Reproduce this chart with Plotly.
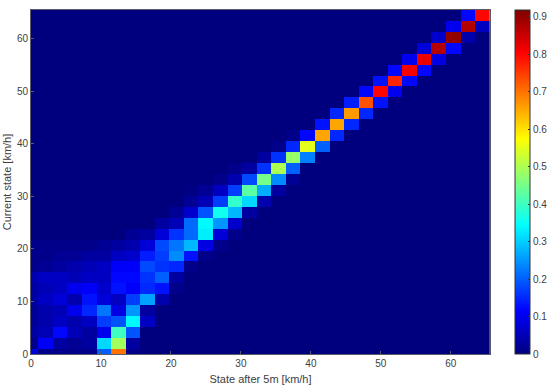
import plotly.graph_objects as go

# speed bins [km/h], first bin is centred on 0 so it gets clipped by the axis
speed_bins = [0, 2.08, 4.16, 6.24, 8.32, 10.4, 12.48, 14.56, 16.64, 18.72, 20.8, 22.88, 24.96, 27.04, 29.12, 31.2,
              33.28, 35.36, 37.44, 39.52, 41.6, 43.68, 45.76, 47.84, 49.92, 52.0, 54.08, 56.16, 58.24, 60.32, 62.4, 64.48]

x_ticks = [0, 10, 20, 30, 40, 50, 60]
y_ticks = [0, 10, 20, 30, 40, 50, 60]
cbar_ticks = [0, 0.1, 0.2, 0.3, 0.4, 0.5, 0.6, 0.7, 0.8, 0.9]

# per row of current state: first non empty column, then the values from there
first_col = [0, 0, 0, 0, 0, 0, 0, 0, 0, 0, 0, 7, 9, 10, 11, 11,
             13, 14, 16, 17, 18, 20, 21, 22, 23, 24, 25, 26, 27, 28, 29, 30]
row_values = [
    [.08, .01, .01, .01, .01, .2, .7, .01],
    [.01, .11, .03, .02, .03, .31, .49, .03],
    [.03, .05, .12, .05, .03, .1, .4, .19],
    [.02, .04, .06, .04, .06, .17, .19, .34, .06],
    [.02, .04, .05, .1, .15, .22, .09, .25, .03],
    [.03, .06, .08, .04, .13, .08, .06, .17, .26, .04],
    [.03, .05, .06, .1, .11, .07, .13, .11, .15, .13, .01],
    [.04, .06, .06, .05, .06, .06, .12, .12, .16, .2, .03],
    [.01, .02, .03, .04, .05, .06, .11, .11, .18, .16, .15, .01],
    [.01, .01, .02, .02, .03, .03, .06, .07, .14, .17, .24, .13, .01],
    [.01, .01, .01, .01, .01, .02, .03, .04, .08, .18, .22, .28, .09, .01],
    [.02, .03, .08, .16, .21, .33, .08, .01],
    [.03, .05, .21, .34, .25, .07],
    [.02, .07, .19, .36, .28, .03],
    [.02, .05, .17, .39, .31, .04],
    [.005, .02, .06, .17, .425, .27, .03],
    [.01, .04, .18, .45, .24, .02],
    [.01, .03, .16, .5, .2],
    [.03, .16, .48, .23],
    [.01, .15, .55, .2],
    [.01, .12, .655, .15],
    [.13, .655, .15],
    [.15, .665, .15],
    [.14, .73, .13],
    [.12, .8, .1],
    [.13, .77, .12],
    [.12, .81, .12],
    [.1, .82, .09],
    [.08, .87, .12],
    [.07, .9, .04],
    [.1, .87, .06],
    [.12, .8],
]

jet = [
    [0, "rgb(0,0,127)"],
    [0.125, "rgb(0,0,255)"],
    [0.375, "rgb(0,255,255)"],
    [0.625, "rgb(255,255,0)"],
    [0.875, "rgb(255,0,0)"],
    [1, "rgb(127,0,0)"],
]

# fill up the full matrix from the rows above
z = []
for start, vals in zip(first_col, row_values):
    row = [0.0] * len(speed_bins)
    for i, v in enumerate(vals):
        row[start + i] = v
    z.append(row)

font_grey = "#404040"
line_grey = "#5a5a6e"

fig = go.Figure()
fig.add_trace(go.Heatmap(
    x=speed_bins, y=speed_bins, z=z,
    colorscale=jet, zmin=0, zmax=0.918, zsmooth=False,
    colorbar=dict(
        x=1.054, xanchor="left", xpad=0, y=0, yanchor="bottom", ypad=0,
        len=1, lenmode="fraction", thickness=15, thicknessmode="pixels",
        tickvals=cbar_ticks, ticktext=[str(t) for t in cbar_ticks],
        ticks="inside", ticklen=2, tickcolor="#333333", tickwidth=1,
        outlinecolor="#333333", outlinewidth=1,
        tickfont=dict(family="Liberation Sans", size=10, color=font_grey),
    ),
))

axis_style = dict(
    showgrid=False, zeroline=False, showline=True, mirror=True,
    linecolor=line_grey, linewidth=1, automargin=False,
    ticks="inside", ticklen=3, tickcolor=line_grey,
    tickfont=dict(family="Liberation Sans", size=10, color=font_grey),
)

fig.update_xaxes(range=[0, 65.6], tickvals=x_ticks,
                 title=dict(text="State after 5m [km/h]", standoff=7,
                            font=dict(family="Liberation Sans", size=11, color=font_grey)),
                 **axis_style)
fig.update_yaxes(range=[0, 65.5], tickvals=y_ticks,
                 title=dict(text="Current state [km/h]", standoff=3,
                            font=dict(family="Liberation Sans", size=11, color=font_grey)),
                 **axis_style)

fig.update_layout(
    width=550, height=389, autosize=False,
    margin=dict(l=31, r=60, t=10, b=35, autoexpand=False),
    paper_bgcolor="white", plot_bgcolor="white",
)

# the page has a default body margin, take it away so the figure sits at 0,0
fig.write_html("out.html", config={"displayModeBar": False},
               post_script="document.body.style.margin='0';document.body.style.overflow='hidden';")
